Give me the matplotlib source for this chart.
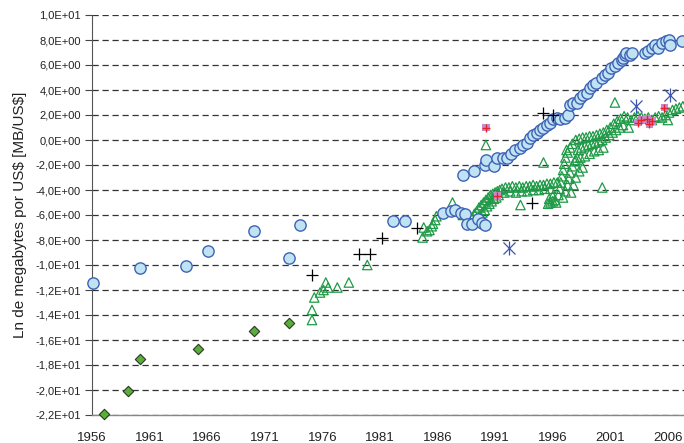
import matplotlib
matplotlib.use("Agg")
import matplotlib.pyplot as plt
from matplotlib.ticker import FuncFormatter

plt.rcParams['font.family'] = ['Liberation Sans', 'DejaVu Sans']

# circulos azules
circ_x = [1956.1, 1960.2, 1964.2, 1966.1, 1970.1, 1973.1, 1974.1, 1982.1, 1983.2,
          1986.5, 1987.2, 1987.5, 1988.0, 1988.4, 1988.2, 1989.2, 1988.6, 1989.0,
          1989.5, 1989.9, 1990.1, 1990.1, 1990.2, 1990.9, 1991.2, 1991.7, 1992.0,
          1992.4, 1992.7, 1993.2, 1993.4, 1993.8, 1994.0, 1994.3, 1994.6, 1994.9,
          1995.2, 1995.5, 1995.8, 1996.0, 1996.4, 1996.6, 1997.1, 1997.3, 1997.5,
          1997.8, 1998.1, 1998.4, 1998.6, 1999.0, 1999.2, 1999.5, 1999.8, 2000.3,
          2000.5, 2000.8, 2001.1, 2001.4, 2001.7, 2002.0, 2002.1, 2002.3, 2002.4,
          2002.7, 2002.9, 2004.0, 2004.3, 2004.6, 2004.9, 2005.1, 2005.5, 2005.8,
          2006.1, 2006.2, 2007.2]
circ_y = [-11.4, -10.2, -10.1, -8.9, -7.3, -9.4, -6.8, -6.5, -6.5,
          -5.8, -5.7, -5.6, -5.8, -5.9, -2.8, -2.5, -6.7, -6.7,
          -6.3, -6.6, -6.8, -2.0, -1.6, -2.1, -1.4, -1.4, -1.4,
          -1.1, -0.8, -0.6, -0.4, -0.2, 0.2, 0.4, 0.6, 0.8,
          1.0, 1.2, 1.4, 1.7, 1.8, 1.7, 1.8, 2.0, 2.8,
          3.0, 3.0, 3.4, 3.6, 3.8, 4.2, 4.4, 4.6, 5.0,
          5.2, 5.4, 5.8, 5.9, 6.2, 6.4, 6.6, 6.8, 7.0,
          6.8, 7.0, 7.0, 7.1, 7.4, 7.6, 7.4, 7.8, 7.9,
          8.0, 7.6, 7.9]

# triangulos verdes
tri_x = [1975.1, 1975.1, 1975.3, 1975.8, 1976.1, 1976.3, 1976.5, 1977.3, 1978.3, 1979.9,
         1984.7, 1984.8, 1985.1, 1985.3, 1985.5, 1985.6, 1985.8, 1985.9, 1987.3, 1987.7,
         1988.2, 1988.6,
         1989.0, 1989.2, 1989.4, 1989.6, 1989.8, 1990.0, 1990.2, 1990.4, 1990.6, 1990.8,
         1991.0, 1991.2, 1991.4,
         1989.5, 1989.7, 1989.9, 1990.1, 1990.3, 1990.5, 1990.7, 1990.9, 1991.1, 1991.3,
         1991.6, 1991.9, 1992.2, 1992.5, 1992.8, 1993.1, 1993.4, 1993.7, 1994.0, 1994.3,
         1994.6, 1994.9, 1995.2, 1995.5, 1995.8, 1996.1, 1996.4,
         1991.8, 1992.3, 1992.8, 1993.3, 1993.8, 1994.3, 1994.8, 1995.3, 1995.8,
         1995.6, 1995.8, 1996.0, 1996.2, 1995.7, 1996.0, 1996.3,
         1996.5, 1996.6, 1996.7, 1996.8, 1996.9, 1997.0, 1997.1, 1997.3, 1997.5, 1997.7,
         1996.9, 1997.1, 1997.3, 1997.4, 1997.5, 1997.7, 1997.9, 1998.1,
         1997.6, 1997.8, 1998.0, 1998.3, 1998.6,
         1998.0, 1998.3, 1998.6, 1998.9, 1999.2, 1999.5, 1999.8, 2000.1, 2000.4, 2000.7,
         2001.0, 2001.3, 2001.6, 2001.9, 2002.2, 2002.5,
         1998.2, 1998.5, 1998.8, 1999.1, 1999.4, 1999.7, 2000.0, 2000.3, 2000.6, 2000.9,
         2001.2, 2001.5, 2001.8, 2002.1,
         1998.0, 1998.4, 1998.8, 1999.2, 1999.6, 2000.0, 2000.4,
         2002.8, 2003.1, 2003.4, 2003.7, 2004.0, 2004.3, 2004.6, 2004.9, 2005.2, 2005.5,
         2005.8, 2006.1, 2006.4, 2006.7, 2007.0, 2007.3, 2006.0,
         2002.6, 2001.4, 1995.2, 2000.3, 1993.2, 1990.2, 1997.2]
tri_y = [-14.4, -13.6, -12.6, -12.2, -12.0, -11.4, -11.8, -11.8, -11.4, -10.0,
         -7.8, -7.0, -7.3, -7.2, -6.9, -6.7, -6.4, -6.1, -5.0, -5.6,
         -6.0, -6.2,
         -6.2, -5.9, -5.7, -5.4, -5.2, -5.0, -4.8, -4.6, -4.4, -4.3,
         -4.2, -4.1, -4.0,
         -6.3, -6.0, -5.8, -5.6, -5.3, -5.1, -4.9, -4.7, -4.6, -4.4,
         -3.9, -3.8, -3.8, -3.7, -3.8, -3.7, -3.8, -3.7, -3.7, -3.6,
         -3.7, -3.6, -3.6, -3.5, -3.5, -3.4, -3.4,
         -4.2, -4.1, -4.2, -4.1, -4.1, -4.0, -4.0, -3.9, -3.9,
         -5.1, -5.0, -4.9, -4.8, -4.7, -4.5, -5.0,
         -4.4, -3.9, -3.4, -2.9, -2.4, -1.9, -1.4, -1.0, -0.6, -0.3,
         -4.6, -4.1, -3.6, -3.1, -2.6, -2.1, -1.7, -1.4,
         -4.2, -3.6, -3.0, -2.5, -2.2,
         0.0, 0.1, 0.2, 0.2, 0.3, 0.3, 0.4, 0.5, 0.6, 0.8,
         1.0, 1.3, 1.5, 1.7, 1.9, 1.8,
         -0.8, -0.6, -0.5, -0.4, -0.3, -0.2, -0.1, 0.0, 0.2, 0.4,
         0.6, 0.8, 1.0, 1.2,
         -1.6, -1.4, -1.3, -1.1, -0.9, -0.8, -0.6,
         1.6, 1.8, 1.9, 1.8, 1.7, 1.8, 1.6, 1.8, 1.9, 1.8,
         2.0, 2.2, 2.4, 2.5, 2.6, 2.7, 1.6,
         1.0, 3.0, -1.8, -3.8, -5.2, -0.4, -0.8]

# cruces negras
plus_x = [1975.1, 1979.2, 1980.1, 1981.2, 1984.2, 1994.2, 1995.2, 1996.0]
plus_y = [-10.8, -9.1, -9.1, -7.8, -7.0, -5.0, 2.2, 2.0]

# rombos verdes
dia_x = [1957.0, 1959.1, 1960.2, 1965.2, 1970.1, 1973.1]
dia_y = [-21.9, -20.1, -17.5, -16.7, -15.3, -14.6]

# cuadrados rosados
sq_x = [1990.2, 1991.2, 2003.4, 2003.7, 2004.2, 2004.6, 2004.4, 2005.7]
sq_y = [1.0, -4.5, 1.4, 1.6, 1.7, 1.5, 1.3, 2.6]

# asteriscos azules
ast_x = [1992.2, 2003.2, 2006.2]
ast_y = [-8.6, 2.7, 3.6]

fig = plt.figure(figsize=(6.84, 4.43), dpi=100)
ax = fig.add_axes([92/684, 28/443, 1 - 92/684, 400/443])

ax.scatter(tri_x, tri_y, marker='^', s=46, facecolors='none', edgecolors='#1F9A46', linewidths=0.9, zorder=3)
ax.scatter(circ_x, circ_y, marker='o', s=66, facecolors='#BFE3F3', edgecolors='#3E62B4',
           linewidths=1.0, zorder=4, clip_on=False)
ax.scatter(plus_x, plus_y, marker='+', s=65, color='black', linewidths=0.9, zorder=5)
ax.scatter(dia_x, dia_y, marker='D', s=28, facecolors='#5AAE3A', edgecolors='#2A3A22',
           linewidths=0.8, zorder=5, clip_on=False)
ax.scatter(sq_x, sq_y, marker='s', s=30, facecolors='#C68BCB', edgecolors='none', zorder=6)
ax.scatter(sq_x, sq_y, marker='+', s=36, color='#E8202A', linewidths=1.0, zorder=7)
ax.scatter(ast_x, ast_y, marker='x', s=75, color='#3E55B0', linewidths=0.9, zorder=6)
ax.scatter(ast_x, ast_y, marker='|', s=95, color='#3E55B0', linewidths=0.9, zorder=6)

ax.set_xlim(1956, 2007.4)
ax.set_ylim(-22, 10)
ax.set_xticks(list(range(1956, 2007, 5)))
ax.set_yticks(list(range(-22, 11, 2)))
ax.yaxis.set_major_formatter(FuncFormatter(lambda v, p: f"{v:.1E}".replace('.', ',')))
ax.tick_params(axis='y', length=5, width=0.8, color='#444444', labelsize=8, pad=3, labelcolor='#222222')
ax.tick_params(axis='x', length=0, labelsize=9.5, pad=12, labelcolor='#222222')

ax.grid(axis='y', linestyle=(0, (5, 3)), color='#333333', linewidth=0.9)
ax.set_axisbelow(True)
for s in ['top', 'right']:
    ax.spines[s].set_visible(False)
ax.spines['left'].set_color('#555555')
ax.spines['bottom'].set_color('#888888')
ax.spines['bottom'].set_linewidth(1.0)

ax.set_ylabel(r'Ln de megabytes por US\$ [MB/US\$]', fontsize=11, labelpad=6, color='#222222')

fig.savefig('out.png', dpi=100)
